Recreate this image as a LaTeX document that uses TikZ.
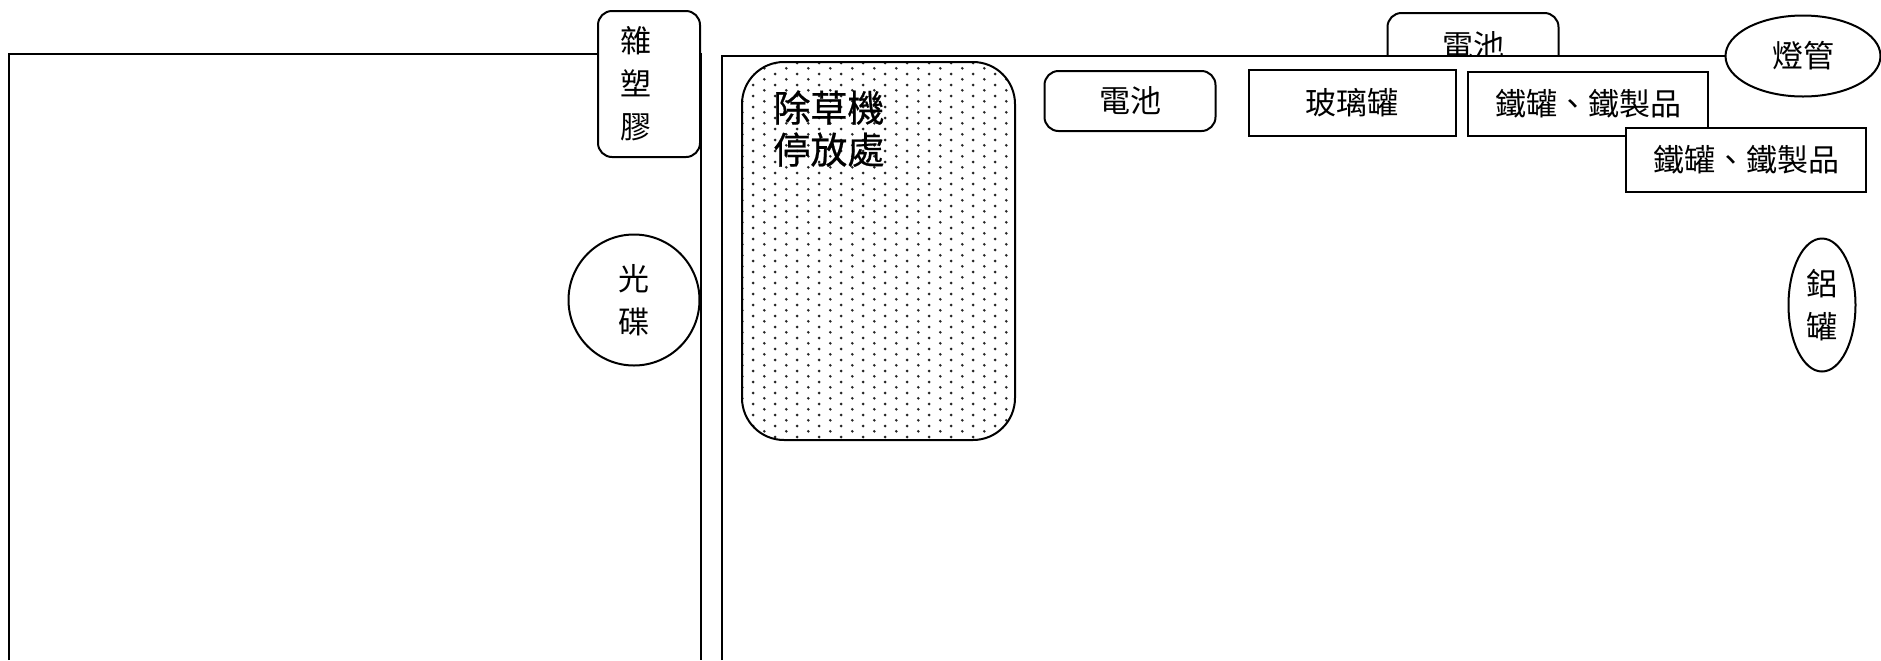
\documentclass[tikz,border=0pt]{standalone}
\usepackage{fontspec}
\newfontfamily\cjk{Noto Sans CJK TC}
\newfontfamily\cjkbig[FakeBold=0.6]{Noto Sans CJK TC}
\usetikzlibrary{shapes.geometric,patterns.meta}
\pgfdeclarepattern{name=lotdots, type=uncolored,
	bottom left={\pgfpointorigin}, top right={\pgfpoint{10.85pt}{5.4pt}},
	tile size={\pgfpoint{10.85pt}{5.4pt}},
	code={\pgfpathcircle{\pgfpoint{2.7pt}{1.35pt}}{.75pt}
		\pgfpathcircle{\pgfpoint{8.12pt}{4.05pt}}{.75pt}
		\pgfusepath{fill}}}
\tikzset{wall/.style={line width=1pt},
	box/.style={draw, line width=1pt, fill=white, rectangle, inner sep=0pt, align=center,
		font=\cjk\fontsize{15.5}{21.5}\selectfont},
	roundbox/.style={box, rounded corners=7pt},
	oval/.style={box, ellipse},
	disc/.style={box, circle},
	lot/.style={draw, line width=1pt, rounded corners=21pt, inner sep=0pt,
		pattern=lotdots, pattern color=black!85}}

\begin{document}
\begin{tikzpicture}[x=0.5pt, y=-0.5pt]
	\useasboundingbox (0,0) rectangle (1881,660);
	\draw[wall] (9,660) -- (9,54) -- (701,54) -- (701,660); %left yard
	\node[roundbox, minimum width=51pt, minimum height=73pt, text width=29pt, align=left, inner xsep=11pt] (plastic) at (649,84) {雜\\塑\\膠};
	\node[disc, minimum size=65.5pt] (disc) at (634,300) {光\\碟};
	\node[roundbox, minimum width=85.5pt, minimum height=33pt] (battA) at (1473,46) {電池}; %half hidden
	\fill[white] (722,56) rectangle (1881,660);
	\draw[wall] (722,660) -- (722,56) -- (1881,56); %right yard
	\node[lot, minimum width=136.5pt, minimum height=189pt] (mower) at (878.5,251) {}; %dotted lot
	\node[anchor=north west, inner sep=0pt, align=left, font=\cjkbig\fontsize{18.5}{21}\selectfont] (mowerlbl) at (773,90) {除草機\\停放處};
	\node[roundbox, minimum width=85.5pt, minimum height=30pt] (battB) at (1130,101) {電池};
	\node[box, minimum width=103.5pt, minimum height=33pt] (glass) at (1352,103) {玻璃罐};
	\node[box, minimum width=120pt, minimum height=32pt] (ironA) at (1588,104) {鐵罐、鐵製品};
	\node[box, minimum width=120pt, minimum height=32pt] (ironB) at (1746,160) {鐵罐、鐵製品};
	\node[oval, minimum width=77.5pt, minimum height=40.5pt] (tube) at (1803,56) {燈管};
	\node[oval, minimum width=33.5pt, minimum height=66.5pt] (alu) at (1822,305) {鋁\\罐};
\end{tikzpicture}
\end{document}
